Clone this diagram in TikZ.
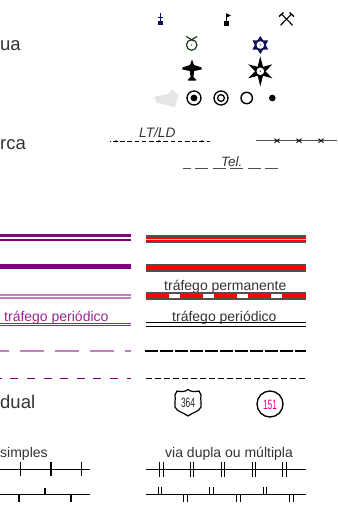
\documentclass[tikz,border=0pt]{standalone}
\usepackage{fontspec}
\setmainfont{Liberation Sans}
\usetikzlibrary{arrows.meta,positioning}
\definecolor{viola}{HTML}{800080}
\definecolor{violapale}{HTML}{C080C0}
\definecolor{rosso}{HTML}{FF0000}
\definecolor{grigio}{HTML}{505050}
\definecolor{blu}{HTML}{10105A}
\definecolor{verde}{HTML}{1C3C1C}

\begin{document}
\begin{tikzpicture}[x=1pt,y=-1pt]
\tikzstyle{label} = [
	inner sep=0pt,
	anchor=base west,
	font=\fontsize{18.5}{18.5}\selectfont,
	text=black!80
];
\tikzstyle{sublabel} = [
	inner sep=0pt,
	anchor=base west,
	font=\fontsize{14}{14}\selectfont,
	text=black!80
];
\tikzstyle{tick} = [black, line width=1.1pt];

\useasboundingbox (0,0) rectangle (337,516);

%section names
\node[label](Ua) at (0,51) {ua};
\node[label](Rca) at (0,149) {rca};
\node[label](Dual) at (0,408) {dual};

%first row of signs
\begin{scope}[shift={(160.3,0)}]
	\fill[blu] (-2.2,21.3) rectangle (2.2,25.4);
	\draw[blu, line width=0.9pt] (0,13.5) -- (0,21.5) (-2.8,17) -- (2.8,17);
\end{scope}
\begin{scope}[shift={(226.3,0)}]
	\fill[black] (-2.4,21) rectangle (2.4,25.8);
	\draw[black, line width=1.1pt] (0,14) -- (0,21);
	\fill[black] (0,13.2) -- (4.6,15.5) -- (0,17.8) -- cycle;
\end{scope}
\begin{scope}[shift={(286.5,19)}]
	\draw[black, line width=1.1pt] (-5,-5) -- (6,6.3) (5,-5) -- (-6,6.3);
	\draw[black, line width=1.4pt] (-7.5,-2.5) -- (-3,-6.5) (7.5,-2.5) -- (3,-6.5);
\end{scope}

%second row of signs
\begin{scope}[shift={(191.7,45)}]
	\draw[verde, line width=1.2pt] (0,0) circle (5.3);
	\draw[verde, line width=1.2pt] (-5.5,-8.5) -- (1.5,-4.5) (5.5,-8.5) -- (-1.5,-4.5);
	\fill[black] (0,0) circle (0.6);
\end{scope}
\begin{scope}[shift={(260.3,45)}]
	\foreach \ang in {30,90,...,330}
		\fill[blu, rotate=\ang] (2,-4.5) -- (9,0) -- (2,4.5) -- cycle;
	\fill[white] (0,0) circle (3.8);
	\fill[black] (0,0) circle (0.6);
\end{scope}

%third row of signs
\begin{scope}[shift={(192,70)}]
	\fill[black] (-1.6,-6) -- (0,-10.5) -- (1.6,-6) -- (2.2,-5) -- (9.7,-2.5) -- (9.7,-0.5) -- (2.2,1) -- (1.4,7) -- (4,9.5) -- (4,10.7) -- (0,10.5) -- (-4,10.7) -- (-4,9.5) -- (-1.4,7) -- (-2.2,1) -- (-9.7,-0.5) -- (-9.7,-2.5) -- (-2.2,-5) -- cycle;
\end{scope}
\begin{scope}[shift={(260.3,71.3)}]
	\foreach \ang in {30,150,210,330}
		\fill[black, rotate=\ang] (0,-3.8) -- (14,0) -- (0,3.8) -- cycle;
	\foreach \ang in {90,270}
		\fill[black, rotate=\ang] (0,-3.8) -- (15,0) -- (0,3.8) -- cycle;
	\fill[white] (0,0) circle (3.8);
	\fill[black] (0,0) circle (0.6);
\end{scope}

%fourth row of signs
\fill[black!10] (154,96.7) -- (168.3,94) -- (172.3,89.3) -- (178.3,95) -- (175,107.3) -- (156.7,102.7) -- cycle;
\draw[black, line width=1.3pt] (194,98) circle (7);
\fill[black] (194,98) circle (3.4);
\draw[black, line width=1.3pt] (221,98) circle (7);
\draw[black, line width=1.3pt] (221,98) circle (3.4);
\draw[black, line width=1.4pt] (246.7,98) circle (5.7);
\fill[black] (272.3,98) circle (3.3);

%limits
\node[sublabel, font=\fontsize{13.7}{13.7}\itshape\selectfont](LtLd) at (139,137.5) {LT/LD};
\node[sublabel, font=\fontsize{13.5}{13.5}\itshape\selectfont](Tel) at (221,166.5) {Tel.};
\draw[black, line width=1pt, dash pattern=on 4.5pt off 2.7pt, dash phase=-3pt] (110,141.3) -- (210,141.3);
\foreach \x in {116,159,202}
	\fill[black] (\x,141.3) circle (1.1);
\draw[grigio, line width=1pt, dash pattern=on 13pt off 4.5pt, dash phase=5.5pt] (183,168.7) -- (282,168.7);
\draw[grigio, line width=1pt] (256,140.7) -- (337,140.7);
\foreach \x in {277,299,321}
	\draw[black, line width=0.9pt] (\x-2.5,138.7) -- (\x+2.5,142.7) (\x+2.5,138.7) -- (\x-2.5,142.7);

%purple roads
\draw[viola, line width=2.6pt] (0,235.3) -- (131,235.3);
\draw[viola, line width=2.2pt] (0,239.6) -- (131,239.6);
\draw[viola, line width=4.5pt] (0,266.7) -- (131,266.7);
\draw[violapale, line width=1.8pt] (0,295.3) -- (131,295.3);
\draw[violapale, line width=1.8pt] (0,298) -- (131,298);
\node[sublabel, text=viola!85](PerLeft) at (4,321) {tráfego periódico};
\draw[viola!85, line width=1.1pt] (0,323.2) -- (131,323.2);
\draw[viola!85, line width=1.1pt] (0,325.9) -- (131,325.9);
\draw[violapale, line width=1.7pt, dash pattern=on 24pt off 11pt, dash phase=15pt] (0,350.7) -- (131,350.7);
\draw[viola, line width=1.2pt, dash pattern=on 8pt off 8.6pt, dash phase=6.3pt] (0,378.3) -- (131,378.3);

%red roads
\draw[grigio, line width=7.8pt] (146,238.8) -- (306,238.8);
\draw[rosso, line width=4.6pt] (146,238.8) -- (306,238.8);
\draw[white!70!rosso, line width=0.6pt] (146,238.8) -- (306,238.8);
\draw[grigio, line width=7.6pt] (146,268) -- (306,268);
\draw[rosso, line width=4.6pt] (146,268) -- (306,268);
\node[sublabel](PermRight) at (164,290) {tráfego permanente};
\draw[grigio, line width=7.6pt] (146,296) -- (306,296);
\draw[rosso, line width=4.6pt] (146,296) -- (306,296);
\foreach \x in {169,203,237,271}
	\fill[white] (\x,293.7) rectangle (\x+11,298.3);
\node[sublabel](PerRight) at (172,321) {tráfego periódico};
\draw[black, line width=1pt] (146,322.7) -- (306,322.7);
\draw[black, line width=1pt] (146,326) -- (306,326);
\draw[black, line width=1.4pt, dash pattern=on 13pt off 2pt] (145,351) -- (306,351);
\draw[black, line width=1.1pt, dash pattern=on 6pt off 3pt] (146,378.3) -- (305,378.3);

%road badges
\draw[black, line width=1.2pt, fill=white] (177,391) .. controls (181,392) and (185,392) .. (188,389.5) .. controls (191,392) and (195,392) .. (199,391) -- (201,395) .. controls (200,400) and (202,403) .. (201,407) .. controls (199,412) and (193,412) .. (188,416) .. controls (183,412) and (177,412) .. (175,407) .. controls (174,403) and (176,400) .. (175,395) -- cycle;
\node[inner sep=0pt, font=\fontsize{13.5}{13.5}\selectfont, xscale=0.62, text=black!85](Shield) at (188,403) {364};
\node[circle, draw=black, line width=1.3pt, minimum size=26pt, inner sep=0pt](Ring) at (270,404) {};
\node[inner sep=0pt, font=\fontsize{13.5}{13.5}\selectfont, xscale=0.62, text=magenta](RingText) at (270,404.5) {151};

%single track
\node[sublabel](Simples) at (0,457.5) {simples};
\draw[black, line width=1pt] (0,469) -- (90,469);
\foreach \x in {20.7,51,81.3}
	\draw[tick] (\x,462) -- (\x,476);
\draw[black, line width=1pt] (0,494.7) -- (90,494.7);
\foreach \x in {19,71}
	\draw[tick] (\x,494.7) -- (\x,502);
\draw[tick] (45,487.5) -- (45,494.7);

%double track
\node[sublabel](Dupla) at (165,457) {via dupla ou múltipla};
\draw[black, line width=1pt] (146,469.3) -- (306,469.3);
\foreach \x in {161.7,192,223,254,284.7}
	\draw[tick] (\x-1.8,461.7) -- (\x-1.8,476.7) (\x+1.8,461.7) -- (\x+1.8,476.7);
\draw[black, line width=1pt] (146,494.7) -- (306,494.7);
\foreach \x in {160,211.7,265}
	\draw[tick] (\x-1.8,487) -- (\x-1.8,494.7) (\x+1.8,487) -- (\x+1.8,494.7);
\foreach \x in {185.7,238.3,291.7}
	\draw[tick] (\x-1.8,494.7) -- (\x-1.8,502) (\x+1.8,494.7) -- (\x+1.8,502);
\end{tikzpicture}
\end{document}
